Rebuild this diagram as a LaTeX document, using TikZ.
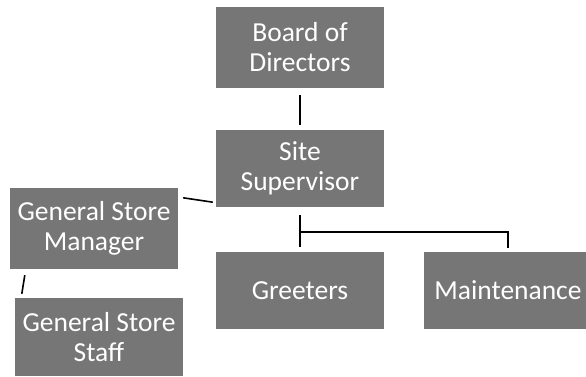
\documentclass[tikz,border=0pt]{standalone}
\usepackage{fontspec}
\setmainfont{Carlito}
\usetikzlibrary{calc}
\definecolor{boxgray}{HTML}{767676}
\tikzset{
  orgbox/.style={fill=boxgray, draw=none, text=white, align=center,
    minimum width=168pt, inner sep=0pt,
    font=\fontsize{27.5}{30}\selectfont},
  link/.style={draw=black, line width=1.6pt}
}
\begin{document}
\begin{tikzpicture}[x=1pt,y=-1pt]
\useasboundingbox[fill=white] (0,0) rectangle (586,377);
\node[orgbox, minimum height=81pt] (board) at (300,47.5) {Board of\\Directors};
\node[orgbox, minimum height=77pt] (site) at (300,168.5) {Site\\Supervisor};
\node[orgbox, minimum height=81pt] (gsm) at (94,228.5) {General Store\\Manager};
\node[orgbox, minimum height=78pt] (staff) at (99,337) {General Store\\Staff};
\node[orgbox, minimum height=77pt] (greet) at (300,290.5) {Greeters};
\node[orgbox, minimum height=77pt] (maint) at (508,290.5) {Maintenance};
\draw[link] ([yshift=-7pt]board.south) -- ([yshift=5pt]site.north);
\draw[link] ([xshift=5pt,yshift=-10pt]gsm.north east) -- ([xshift=-3pt,yshift=5pt]site.south west);
\draw[link] ([xshift=15pt,yshift=-6pt]gsm.south west) -- ([xshift=7pt,yshift=4pt]staff.north west);
\draw[link] ([yshift=-8pt]site.south) -- ([yshift=5pt]greet.north);
\coordinate (mid) at ($(site.south)!0.55!(greet.north)$);
\draw[link] (mid) -| ([yshift=4pt]maint.north);
\end{tikzpicture}
\end{document}
